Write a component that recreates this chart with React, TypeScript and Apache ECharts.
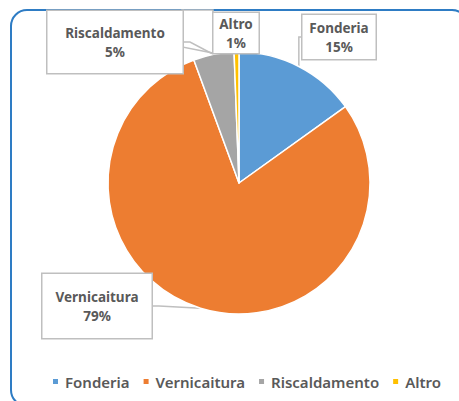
import React, { useEffect, useRef } from "react";
import * as echarts from "echarts";

const categories = ["Fonderia", "Vernicaitura", "Riscaldamento", "Altro"];
const values = [15.1, 79.3, 5.0, 0.6];
const colors = ["#5B9BD5", "#ED7D31", "#A5A5A5", "#FFC000"];

// label box layout: center x, center y, box width, box height
const labelBoxes = [
  { x: 339, y: 37, w: 73, h: 44 },
  { x: 97, y: 306, w: 109, h: 64 },
  { x: 115, y: 42, w: 135, h: 62 },
  { x: 236, y: 33, w: 45, h: 40 },
];

const FONT = "'Noto Sans', 'DejaVu Sans', sans-serif";

export default function App() {
  const ref = useRef<HTMLDivElement>(null);
  useEffect(() => {
    if (!ref.current) return;
    const chart = echarts.init(ref.current, undefined, { renderer: "svg" });
    const data = categories.map((name, i) => ({
      name,
      value: values[i],
      itemStyle: { color: colors[i] },
      label: {
        width: labelBoxes[i].w - 4,
        height: labelBoxes[i].h - 4,
      },
    }));
    chart.setOption({
      animation: false,
      backgroundColor: "#ffffff",
      graphic: [
        {
          type: "rect",
          shape: { x: 11, y: 10, width: 457, height: 396, r: 16 },
          style: { fill: "none", stroke: "#2E7CC4", lineWidth: 2 },
          z: 0,
          silent: true,
        },
        {
          type: "polygon",
          shape: { points: [[182, 10], [182, 47], [213, 53], [213, 10]] },
          style: { fill: "#ffffff", stroke: "#BFBFBF", lineWidth: 1.5 },
          z: 0,
          silent: true,
        },
      ],
      legend: {
        data: categories,
        left: 46,
        top: 369,
        icon: "rect",
        itemWidth: 7,
        itemHeight: 7,
        itemGap: 12,
        textStyle: {
          fontFamily: FONT,
          fontSize: 15,
          fontWeight: 600,
          color: "#595959",
          padding: [0, 0, 0, 1],
        },
      },
      series: [
        {
          type: "pie",
          center: [239, 183],
          radius: 131,
          startAngle: 90,
          clockwise: true,
          percentPrecision: 0,
          data,
          itemStyle: { borderColor: "#ffffff", borderWidth: 1.5 },
          label: {
            show: true,
            position: "outside",
            formatter: "{b}\n{d}%",
            fontFamily: FONT,
            fontSize: 13.5,
            fontWeight: "bold",
            color: "#595959",
            lineHeight: 19,
            align: "center",
            verticalAlign: "middle",
            backgroundColor: "#ffffff",
            borderColor: "#BFBFBF",
            borderWidth: 1.5,
            padding: 2,
          },
          labelLine: {
            show: true,
            length: 6,
            length2: 6,
            lineStyle: { color: "#BFBFBF", width: 1.5 },
          },
          labelLayout: (params: any) => {
            const b = labelBoxes[params.dataIndex];
            return {
              x: b.x,
              y: b.y,
              align: "center",
              verticalAlign: "middle",
            };
          },
        },
      ],
    });
    return () => chart.dispose();
  }, []);
  return (
    <div
      ref={ref}
      style={{ position: "absolute", left: 0, top: 0, width: 459, height: 401 }}
    />
  );
}
